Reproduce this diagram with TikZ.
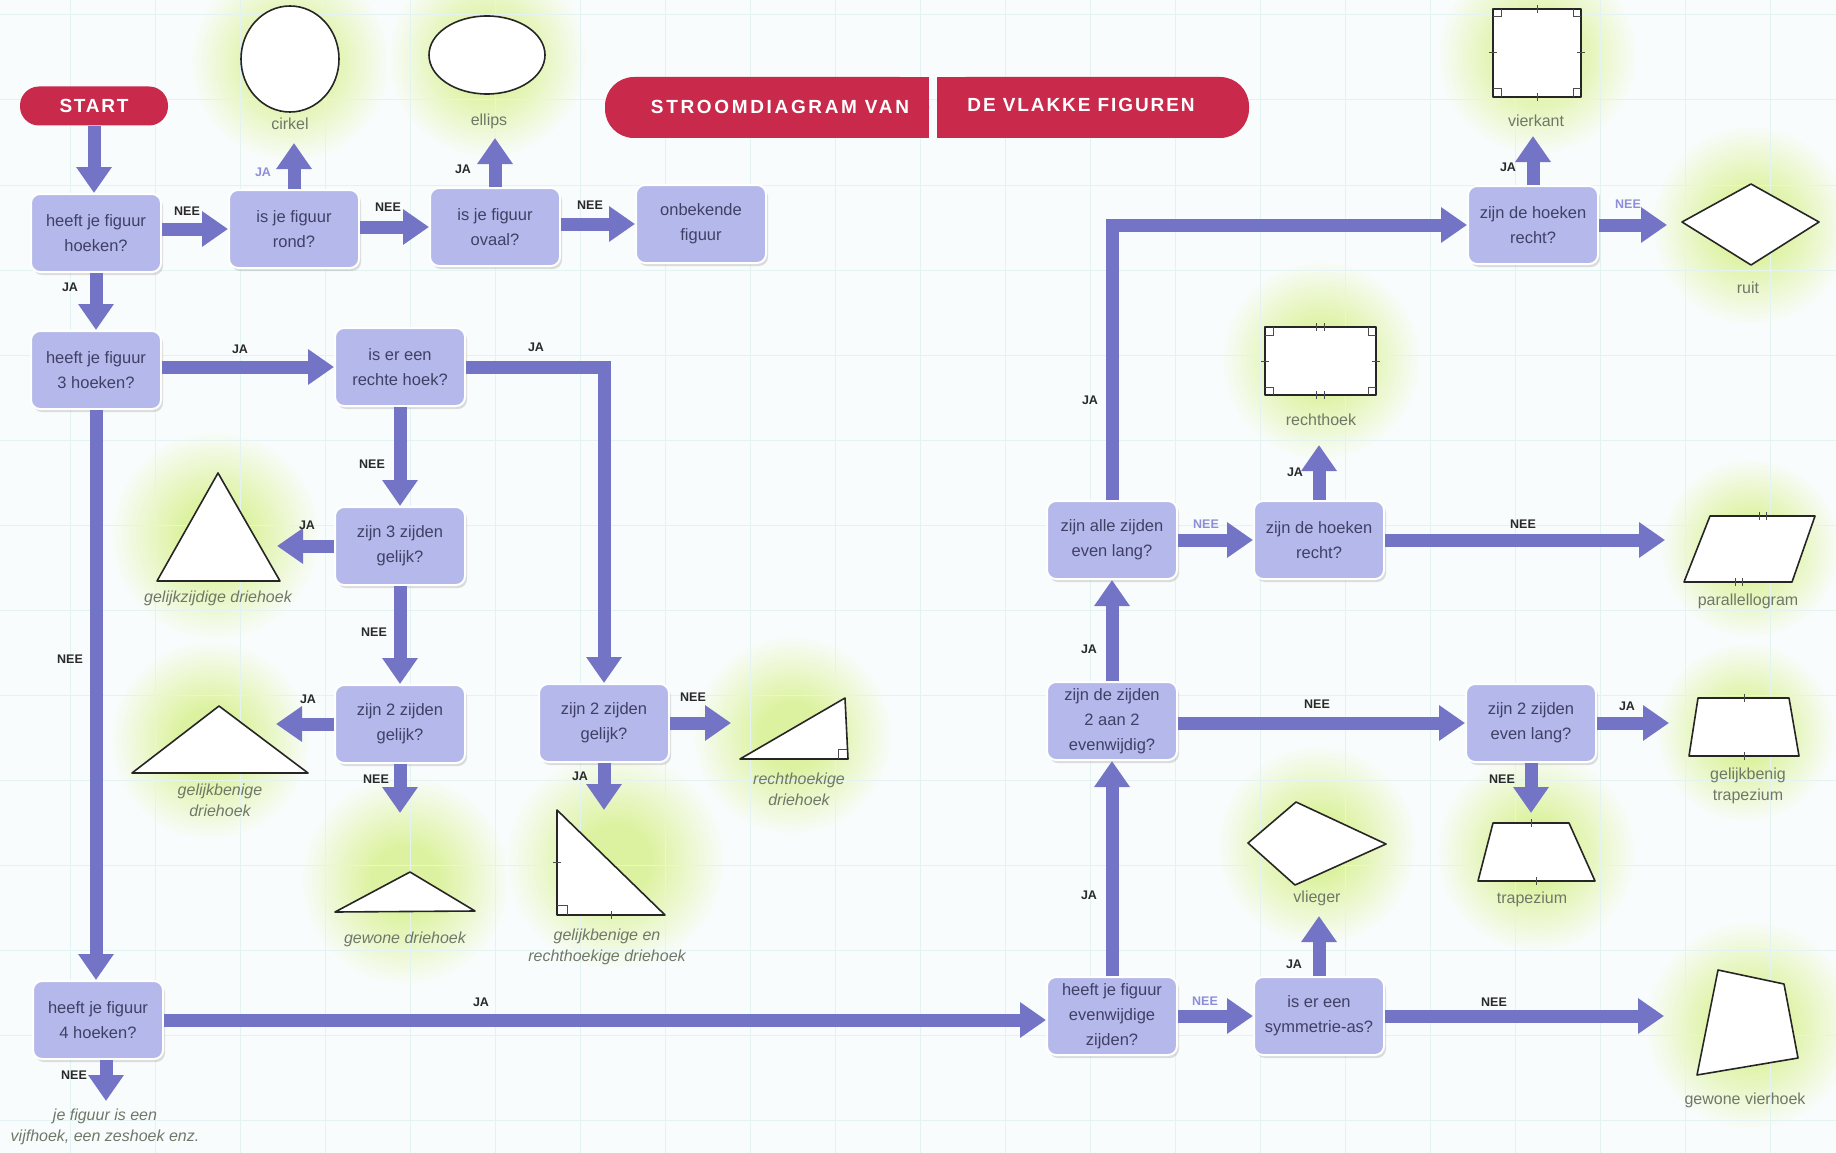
\documentclass[tikz,border=0pt]{standalone}
\usepackage{fontspec}
\setmainfont{Liberation Sans}
\usetikzlibrary{arrows.meta,shadows}
\definecolor{arrc}{HTML}{7474C6}
\definecolor{boxc}{HTML}{B5B8EA}
\definecolor{boxtxt}{HTML}{404066}
\definecolor{titc}{HTML}{C92A4C}
\definecolor{glowc}{HTML}{DDF2A0}
\definecolor{glowm}{HTML}{EAF7CA}
\definecolor{bgc}{HTML}{F9FCFC}
\definecolor{gridc}{HTML}{E3F3F1}
\definecolor{lblc}{HTML}{2A2A2A}
\definecolor{lblpc}{HTML}{8E8ED8}
\definecolor{shtxt}{HTML}{6F7868}
\pgfdeclareradialshading{glow}{\pgfpoint{0bp}{0bp}}{color(0bp)=(glowc); color(8bp)=(glowc); color(16bp)=(glowm); color(25bp)=(bgc); color(50bp)=(bgc)}
\tikzset{
  qbox/.style={rounded corners=9pt, fill=boxc, draw=white, line width=2pt,
    minimum width=130pt, minimum height=78pt, align=center, text=boxtxt,
    font=\fontsize{16.5}{25}\selectfont, inner sep=3pt,
    drop shadow={opacity=0.25, shadow xshift=2pt, shadow yshift=-3pt}},
  arr/.style={draw=arrc, line width=13pt, -{Triangle[width=34pt,length=26pt]}},
  lbl/.style={font=\bfseries\fontsize{12.5}{14}\selectfont, text=lblc},
  lblp/.style={lbl, text=lblpc},
  shl/.style={font=\fontsize{16}{21}\selectfont, text=shtxt, align=center},
  shli/.style={shl, font=\itshape\fontsize{16}{21}\selectfont},
  shp/.style={draw=black!85, line width=1.6pt, fill=white, line join=round},
  tck/.style={draw=black!70, line width=1pt},
  glowbg/.style={shading=glow},
  pillc/.style={fill=titc}
}
\begin{document}
\begin{tikzpicture}[x=1pt,y=-1pt]
\useasboundingbox (0,0) rectangle (1836,1153);
\fill[bgc] (0,0) rectangle (1836,1153);
% glows
\foreach \cx/\cy/\r in {290/62/100, 487/58/100, 215/535/105, 210/740/100, 405/880/105, 615/860/110, 792/735/100,
  1537/55/100, 1751/225/100, 1321/360/100, 1750/548/90, 1745/732/90, 1536/852/100, 1317/845/100, 1750/1025/105}
  \shade[glowbg] (\cx,\cy) circle (\r pt);
% grid
\foreach \gx in {70,155,...,1830} \draw[gridc, line width=1pt] (\gx,0) -- (\gx,1153);
\foreach \gy in {15,100,...,1150} \draw[gridc, line width=1pt] (0,\gy) -- (1836,\gy);

% title banner
\fill[pillc, rounded corners=29pt] (605,77) rectangle (929,138);
\fill[pillc] (880,77) rectangle (929,138);
\fill[pillc, rounded corners=29pt] (937,77) rectangle (1249,138);
\fill[pillc] (937,77) rectangle (990,138);
\node[text=white, font=\bfseries\addfontfeatures{LetterSpace=14}\fontsize{19}{20}\selectfont] (tit1) at (780,107) {STROOMDIAGRAM VAN};
\node[text=white, font=\bfseries\addfontfeatures{LetterSpace=10}\fontsize{19}{20}\selectfont] (tit2) at (1081,105) {DE VLAKKE FIGUREN};

% start
\node[fill=titc, text=white, rounded corners=19pt, minimum width=148pt, minimum height=39pt,
  font=\bfseries\addfontfeatures{LetterSpace=9}\fontsize{19}{20}\selectfont] (start) at (94,106) {START};

% question boxes
\node[qbox] (hoeken) at (96,233) {heeft je figuur\\hoeken?};
\node[qbox] (rond) at (294,229) {is je figuur\\rond?};
\node[qbox] (ovaal) at (495,227) {is je figuur\\ovaal?};
\node[qbox] (onbek) at (701,224) {onbekende\\figuur};
\node[qbox] (drie) at (96,370) {heeft je figuur\\3 hoeken?};
\node[qbox] (rechte) at (400,367) {is er een\\rechte hoek?};
\node[qbox] (zijden3) at (400,546) {zijn 3 zijden\\gelijk?};
\node[qbox] (zijden2a) at (400,724) {zijn 2 zijden\\gelijk?};
\node[qbox] (zijden2b) at (604,723) {zijn 2 zijden\\gelijk?};
\node[qbox] (vier) at (98,1020) {heeft je figuur\\4 hoeken?};
\node[qbox] (hoekT) at (1533,225) {zijn de hoeken\\recht?};
\node[qbox] (alle) at (1112,540) {zijn alle zijden\\even lang?};
\node[qbox] (hoekM) at (1319,540) {zijn de hoeken\\recht?};
\node[qbox] (tweeaan) at (1112,721) {zijn de zijden\\2 aan 2\\evenwijdig?};
\node[qbox] (evenlang) at (1531,723) {zijn 2 zijden\\even lang?};
\node[qbox] (evenw) at (1112,1016) {heeft je figuur\\evenwijdige\\zijden?};
\node[qbox] (symm) at (1319,1016) {is er een\\symmetrie-as?};

% shapes
\draw[shp] (290,59) ellipse [x radius=49pt, y radius=53pt];
\draw[shp] (487,55) ellipse [x radius=58pt, y radius=39pt];
\draw[shp] (218,473) -- (157,581) -- (280,581) -- cycle;
\draw[shp] (219,706) -- (132,773) -- (308,773) -- cycle;
\draw[shp] (335,912) -- (410,872) -- (475,911) -- cycle;
\draw[shp] (557,810) -- (557,915) -- (665,915) -- cycle;
\draw[tck] (557,905) -- (567,905) -- (567,915);
\draw[tck] (553,862) -- (561,862); \draw[tck] (611,911) -- (611,919);
\draw[shp] (740,759) -- (845,698) -- (848,759) -- cycle;
\draw[tck] (838,759) -- (838,749) -- (847,749);
\draw[shp] (1493,9) rectangle (1581,97);
\draw[tck] (1493,17) -- (1501,17) -- (1501,9); \draw[tck] (1573,9) -- (1573,17) -- (1581,17);
\draw[tck] (1493,89) -- (1501,89) -- (1501,97); \draw[tck] (1573,97) -- (1573,89) -- (1581,89);
\draw[tck] (1537,5) -- (1537,13); \draw[tck] (1537,93) -- (1537,101); \draw[tck] (1489,53) -- (1497,53); \draw[tck] (1577,53) -- (1585,53);
\draw[shp] (1265,327) rectangle (1376,395);
\draw[tck] (1265,335) -- (1273,335) -- (1273,327); \draw[tck] (1368,327) -- (1368,335) -- (1376,335);
\draw[tck] (1265,387) -- (1273,387) -- (1273,395); \draw[tck] (1368,395) -- (1368,387) -- (1376,387);
\draw[tck] (1316,323) -- (1316,331); \draw[tck] (1324,323) -- (1324,331);
\draw[tck] (1316,391) -- (1316,399); \draw[tck] (1324,391) -- (1324,399);
\draw[tck] (1261,361) -- (1269,361); \draw[tck] (1372,361) -- (1380,361);
\draw[shp] (1682,222) -- (1751,184) -- (1819,222) -- (1751,265) -- cycle;
\draw[shp] (1684,582) -- (1710,516) -- (1815,516) -- (1792,582) -- cycle;
\draw[tck] (1759,512) -- (1759,520); \draw[tck] (1766,512) -- (1766,520);
\draw[tck] (1735,578) -- (1735,586); \draw[tck] (1742,578) -- (1742,586);
\draw[shp] (1698,698) -- (1789,698) -- (1799,756) -- (1689,756) -- cycle;
\draw[tck] (1744,694) -- (1744,702); \draw[tck] (1744,752) -- (1744,760);
\draw[shp] (1493,823) -- (1569,823) -- (1595,881) -- (1478,881) -- cycle;
\draw[tck] (1531,819) -- (1531,827); \draw[tck] (1536,877) -- (1536,885);
\draw[shp] (1296,802) -- (1386,844) -- (1295,885) -- (1248,843) -- cycle;
\draw[shp] (1718,970) -- (1784,984) -- (1798,1058) -- (1697,1075) -- cycle;

% shape labels
\node[shl] (lcirkel) at (290,124) {cirkel};
\node[shl] (lellips) at (489,121) {ellips};
\node[shli] (ltri1) at (218,598) {gelijkzijdige driehoek};
\node[shli] (ltri2) at (220,800) {gelijkbenige\\driehoek};
\node[shli] (ltri3) at (405,939) {gewone driehoek};
\node[shli] (ltri4) at (607,947) {gelijkbenige en\\rechthoekige driehoek};
\node[shli] (ltri5) at (799,789) {rechthoekige\\driehoek};
\node[shl] (lvierk) at (1536,121) {vierkant};
\node[shl] (lruit) at (1748,288) {ruit};
\node[shl] (lrecht) at (1321,420) {rechthoek};
\node[shl] (lpar) at (1748,601) {parallellogram};
\node[shl] (ltrapgb) at (1748,786) {gelijkbenig\\trapezium};
\node[shl] (ltrap) at (1532,899) {trapezium};
\node[shl] (lvlieg) at (1317,898) {vlieger};
\node[shl] (lvierh) at (1745,1100) {gewone vierhoek};
\node[shli] (vijf) at (105,1127) {je figuur is een\\vijfhoek, een zeshoek enz.};

% free arrow ends
\coordinate (cirkelA) at (294,143);
\coordinate (ellipsA) at (495,138);
\coordinate (tri1A) at (277,546);
\coordinate (tri2A) at (276,724);
\coordinate (tri3A) at (400,813);
\coordinate (tri4A) at (604,810);
\coordinate (tri5A) at (731,723);
\coordinate (vijfA) at (106,1101);
\coordinate (vliegA) at (1319,916);
\coordinate (vierhA) at (1664,1016);
\coordinate (trapgbA) at (1669,723);
\coordinate (trapA) at (1531,813);
\coordinate (rechtA) at (1319,445);
\coordinate (parA) at (1665,540);
\coordinate (vierkA) at (1533,136);
\coordinate (ruitA) at (1667,225);

% arrows
\draw[arr] (start.south) -- (start.south |- hoeken.north);
\draw[arr] (hoeken.east |- rond.west) -- (rond.west);
\draw[arr] (rond.north) -- (cirkelA);
\draw[arr] (rond.east |- ovaal.west) -- (ovaal.west);
\draw[arr] (ovaal.north) -- (ellipsA);
\draw[arr] (ovaal.east |- onbek.west) -- (onbek.west);
\draw[arr] (hoeken.south) -- (drie.north);
\draw[arr] (drie.east |- rechte.west) -- (rechte.west);
\draw[arr] (rechte.east) -| (zijden2b.north);
\draw[arr] (rechte.south) -- (zijden3.north);
\draw[arr] (zijden3.west) -- (tri1A);
\draw[arr] (zijden3.south) -- (zijden2a.north);
\draw[arr] (zijden2a.west) -- (tri2A);
\draw[arr] (zijden2a.south) -- (tri3A);
\draw[arr] (zijden2b.east) -- (tri5A);
\draw[arr] (zijden2b.south) -- (tri4A);
\draw[arr] (drie.south) -- (drie.south |- vier.north);
\draw[arr] (vier.south -| vijfA) -- (vijfA);
\draw[arr] (vier.east) -- (vier.east -| evenw.west);
\draw[arr] (evenw.north) -- (tweeaan.south);
\draw[arr] (evenw.east) -- (symm.west);
\draw[arr] (symm.north) -- (vliegA);
\draw[arr] (symm.east) -- (vierhA);
\draw[arr] (tweeaan.north) -- (alle.south);
\draw[arr] (tweeaan.east |- evenlang.west) -- (evenlang.west);
\draw[arr] (evenlang.east) -- (trapgbA);
\draw[arr] (evenlang.south) -- (trapA);
\draw[arr] (alle.north) |- (hoekT.west);
\draw[arr] (alle.east) -- (hoekM.west);
\draw[arr] (hoekM.north) -- (rechtA);
\draw[arr] (hoekM.east) -- (parA);
\draw[arr] (hoekT.north) -- (vierkA);
\draw[arr] (hoekT.east) -- (ruitA);

% arrow labels
\node[lbl] (n1) at (187,211) {NEE};
\node[lblp] (j1) at (263,172) {JA};
\node[lbl] (n2) at (388,207) {NEE};
\node[lbl] (j2) at (463,169) {JA};
\node[lbl] (n3) at (590,205) {NEE};
\node[lbl] (j3) at (70,287) {JA};
\node[lbl] (j4) at (240,349) {JA};
\node[lbl] (j5) at (536,347) {JA};
\node[lbl] (n4) at (372,464) {NEE};
\node[lbl] (j6) at (307,525) {JA};
\node[lbl] (n5) at (374,632) {NEE};
\node[lbl] (j7) at (308,699) {JA};
\node[lbl] (n6) at (376,779) {NEE};
\node[lbl] (n7) at (693,697) {NEE};
\node[lbl] (j8) at (580,776) {JA};
\node[lbl] (n8) at (70,659) {NEE};
\node[lbl] (n9) at (74,1075) {NEE};
\node[lbl] (j9) at (481,1002) {JA};
\node[lbl] (j10) at (1089,895) {JA};
\node[lblp] (n10) at (1205,1001) {NEE};
\node[lbl] (j11) at (1294,964) {JA};
\node[lbl] (n11) at (1494,1002) {NEE};
\node[lbl] (j12) at (1089,649) {JA};
\node[lbl] (n12) at (1317,704) {NEE};
\node[lbl] (j13) at (1627,706) {JA};
\node[lbl] (n13) at (1502,779) {NEE};
\node[lbl] (j14) at (1090,400) {JA};
\node[lblp] (n14) at (1206,524) {NEE};
\node[lbl] (j15) at (1295,472) {JA};
\node[lbl] (n15) at (1523,524) {NEE};
\node[lbl] (j16) at (1508,167) {JA};
\node[lblp] (n16) at (1628,204) {NEE};
\end{tikzpicture}
\end{document}
